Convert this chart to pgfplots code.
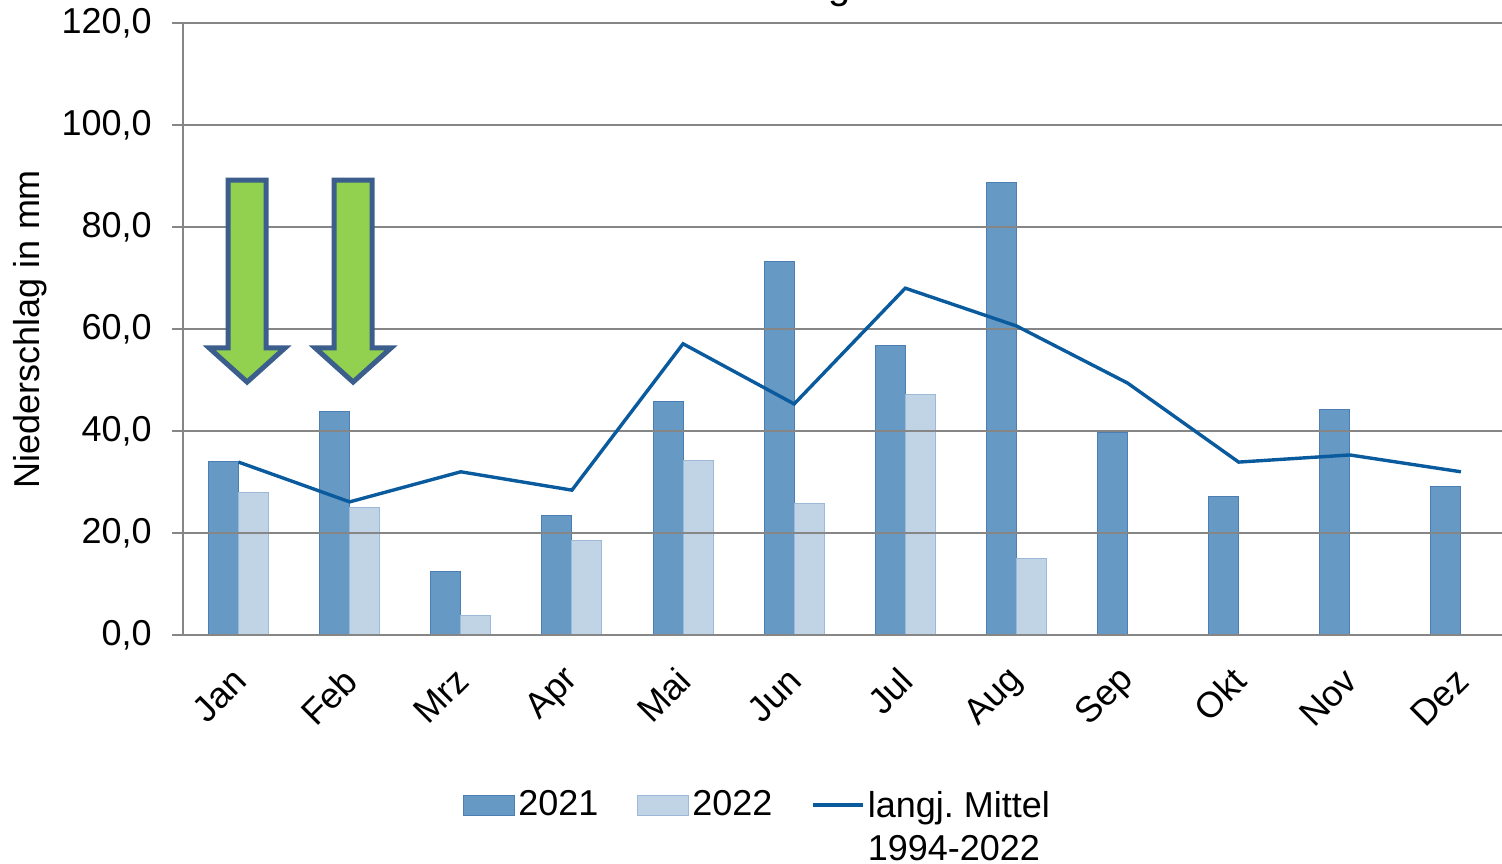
\documentclass[border=0pt]{standalone}
\usepackage{fontspec}
\setmainfont{Liberation Sans}
\usepackage{pgfplots}
\usepackage{pgfplotstable}
\pgfplotsset{compat=1.18}
\frenchspacing
\definecolor{cA}{HTML}{6699C4}
\definecolor{cAb}{HTML}{4A7EB4}
\definecolor{cB}{HTML}{C1D4E6}
\definecolor{cBb}{HTML}{9CB9D9}
\definecolor{cline}{HTML}{0A5A9E}
\definecolor{gridgray}{HTML}{868686}
\definecolor{arrowfill}{HTML}{92D050}
\definecolor{arrowdraw}{HTML}{3B5E8C}

\pgfplotsset{
  barleg/.style={legend image code/.code={\draw[##1] (0pt,-5pt) rectangle (25.5pt,5pt);}},
  lineleg/.style={legend image code/.code={\draw[##1] (0pt,0pt) -- (25pt,0pt);}},
}

\pgfplotstableread{
x y
0 34.1
1 43.9
2 12.5
3 23.5
4 45.7
5 73.3
6 56.7
7 88.8
8 39.8
9 27.1
10 44.3
11 29.2
}\tA
\pgfplotstableread{
x y
0 28.0
1 24.9
2 3.9
3 18.6
4 34.3
5 25.7
6 47.1
7 14.9
}\tB
\pgfplotstableread{
x y
0 33.9
1 26.1
2 32.0
3 28.4
4 57.1
5 45.3
6 68.0
7 60.6
8 49.4
9 33.9
10 35.3
11 32.0
}\tM

\begin{document}
\fontsize{18}{21.5}\selectfont
\begin{tikzpicture}[font=\fontsize{18}{21.5}\selectfont]
\begin{axis}[
  set layers,
  scale only axis, width=659.5pt, height=306pt,
  xmin=-0.5, xmax=11.37, ymin=0, ymax=120,
  ytick={0,20,...,120},
  xtick={0,...,11},
  xticklabels={Jan,Feb,Mrz,Apr,Mai,Jun,Jul,Aug,Sep,Okt,Nov,Dez},
  axis lines*=left,
  axis line style={gridgray, line width=0.6pt},
  ymajorgrids, grid style={gridgray, line width=0.6pt},
  tick align=outside, major tick length=5.5pt,
  ytick style={gridgray, line width=0.6pt},
  xtick style={draw=none},
  /pgf/number format/assume math mode=true,
  yticklabel={\pgfmathprintnumber[fixed,fixed zerofill,precision=1,use comma]{\tick}},
  yticklabel style={xshift=-4pt, font=\fontsize{18}{21.5}\selectfont},
  xticklabel style={xshift=5pt, yshift=-10pt, rotate=45, anchor=east, font=\fontsize{18}{21.5}\selectfont},
  ylabel={Niederschlag in mm},
  ylabel style={at={(axis description cs:-0.1155,0.5)}, anchor=center, font=\fontsize{18}{21.5}\selectfont},
  legend style={at={(axis description cs:0.436,-0.237)}, anchor=north, draw=none,
    legend columns=3, font=\fontsize{18}{21.5}\selectfont,
    /tikz/every even column/.append style={column sep=18pt},
    nodes={inner sep=1.5pt}},
  legend cell align=left,
]
\addplot[ybar, bar width=0.27, bar shift=-0.135, fill=cA, draw=cAb, line width=0.5pt, on layer=axis background, barleg] table[x=x,y=y]{\tA};
\addlegendentry{2021}
\addplot[ybar, bar width=0.27, bar shift=0.135, fill=cB, draw=cBb, line width=0.5pt, on layer=axis background, barleg] table[x=x,y=y]{\tB};
\addlegendentry{2022}
\addplot[sharp plot, cline, line width=1.7pt, mark=none, lineleg] table[x=x,y=y]{\tM};
\addlegendentry{\begin{tabular}[t]{@{}l@{}}langj. Mittel\\1994-2022\end{tabular}}
\draw[draw=arrowdraw, fill=arrowfill, line width=2.5pt, line join=miter]
  (axis cs:-0.094,89.2) -- (axis cs:0.248,89.2) -- (axis cs:0.248,56.3) -- (axis cs:0.419,56.3)
  -- (axis cs:0.077,49.6) -- (axis cs:-0.265,56.3) -- (axis cs:-0.094,56.3) -- cycle;
\draw[draw=arrowdraw, fill=arrowfill, line width=2.5pt, line join=miter]
  (axis cs:0.860,89.2) -- (axis cs:1.202,89.2) -- (axis cs:1.202,56.3) -- (axis cs:1.373,56.3)
  -- (axis cs:1.031,49.6) -- (axis cs:0.689,56.3) -- (axis cs:0.860,56.3) -- cycle;
\end{axis}
\node[overlay, anchor=base east, font=\fontsize{20}{24}\selectfont] at ([xshift=340pt, yshift=12.2pt]current axis.north west) {Niederschlag};
\pgfresetboundingbox
\path[use as bounding box] ([xshift=-91.5pt,yshift=-114.5pt]current axis.south west) rectangle ([yshift=11.5pt]current axis.north east);
\end{tikzpicture}
\end{document}
